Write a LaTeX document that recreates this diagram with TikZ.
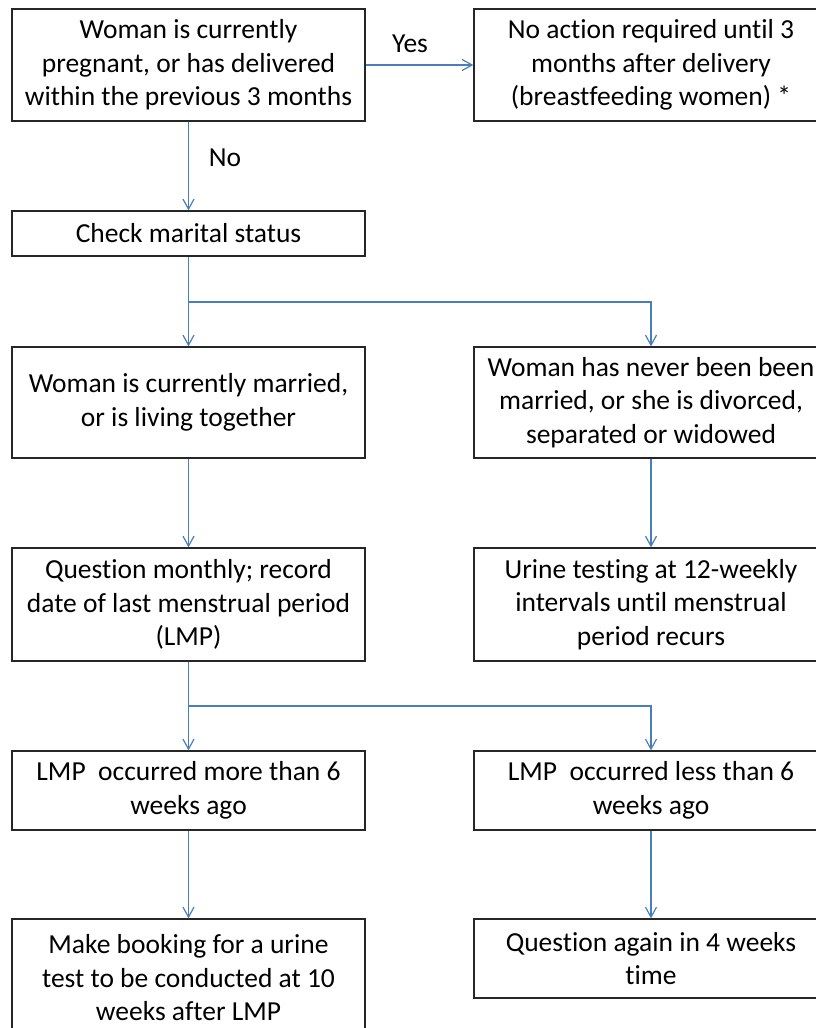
\documentclass[tikz,border=0pt]{standalone}
\usepackage{fontspec}
\setmainfont[RawFeature={-liga;-clig;-dlig;-calt}]{Carlito}
\usetikzlibrary{arrows.meta}
\definecolor{conn}{HTML}{4A7EBB}
\newcommand\tibrk{t\kern0pt i}
\begin{document}
\begin{tikzpicture}[x=1pt,y=-1pt,
  box/.style={draw=black!85,line width=1.3pt,inner sep=0pt,align=center,
    font=\fontsize{27.5}{33.5}\selectfont},
  lbl/.style={inner sep=0pt,font=\fontsize{27.5}{33.5}\selectfont},
  conline/.style={draw=conn,line width=1.2pt},
  arr/.style={conline,-{Straight Barb[length=10pt,width=11pt,line width=1.2pt]}}]
\clip (0,0) rectangle (816,1028);
\fill[white] (0,0) rectangle (816,1028);
\node[box,minimum width=353pt,minimum height=112pt] (b1) at (188.5,65)
  {Woman is currently\\pregnant, or has delivered\\within the previous 3 months};
\node[box,minimum width=354pt,minimum height=112pt] (b2) at (651,65)
  {No ac\tibrk on required un\tibrk l 3\\months after delivery\\(breastfeeding women) *};
\node[box,minimum width=353pt,minimum height=45pt] (b3) at (188.5,233.5)
  {Check marital status};
\node[box,minimum width=353pt,minimum height=111pt] (b4) at (188.5,402.5)
  {Woman is currently married,\\or is living together};
\node[box,minimum width=354pt,minimum height=111pt] (b5) at (651,402.5)
  {Woman has never been been\\married, or she is divorced,\\separated or widowed};
\node[box,minimum width=353pt,minimum height=113pt] (b6) at (188.5,604.5)
  {Ques\tibrk on monthly; record\\date of last menstrual period\\(LMP)};
\node[box,minimum width=354pt,minimum height=113pt] (b7) at (651,604.5)
  {Urine tes\tibrk ng at 12-weekly\\intervals un\tibrk l menstrual\\period recurs};
\node[box,minimum width=353pt,minimum height=79pt] (b8) at (188.5,790.5)
  {LMP\ \ occurred more than 6\\weeks ago};
\node[box,minimum width=354pt,minimum height=79pt] (b9) at (651,790.5)
  {LMP\ \ occurred less than 6\\weeks ago};
\node[box,minimum width=353pt,minimum height=118pt] (b10) at (188.5,978)
  {Make booking for a urine\\test to be conducted at 10\\weeks after LMP};
\node[box,minimum width=354pt,minimum height=79pt] (b11) at (651,958.5)
  {Ques\tibrk on again in 4 weeks\\\tibrk me};
\node[lbl] (yes) at (410,44) {Yes};
\node[lbl] (no) at (225,158) {No};
\coordinate (j1) at (188.5,302);
\coordinate (j2) at (188.5,706);
\draw[arr] (b1.east) -- (b2.west);
\draw[arr] (b1.south) -- (b3.north);
\draw[conline] (b3.south) -- (j1);
\draw[arr] (j1) -- (b4.north);
\draw[arr] (j1) -| (b5.north);
\draw[arr] (b4.south) -- (b6.north);
\draw[arr] (b5.south) -- (b7.north);
\draw[conline] (b6.south) -- (j2);
\draw[arr] (j2) -- (b8.north);
\draw[arr] (j2) -| (b9.north);
\draw[arr] (b8.south) -- (b10.north);
\draw[arr] (b9.south) -- (b11.north);
\end{tikzpicture}
\end{document}
